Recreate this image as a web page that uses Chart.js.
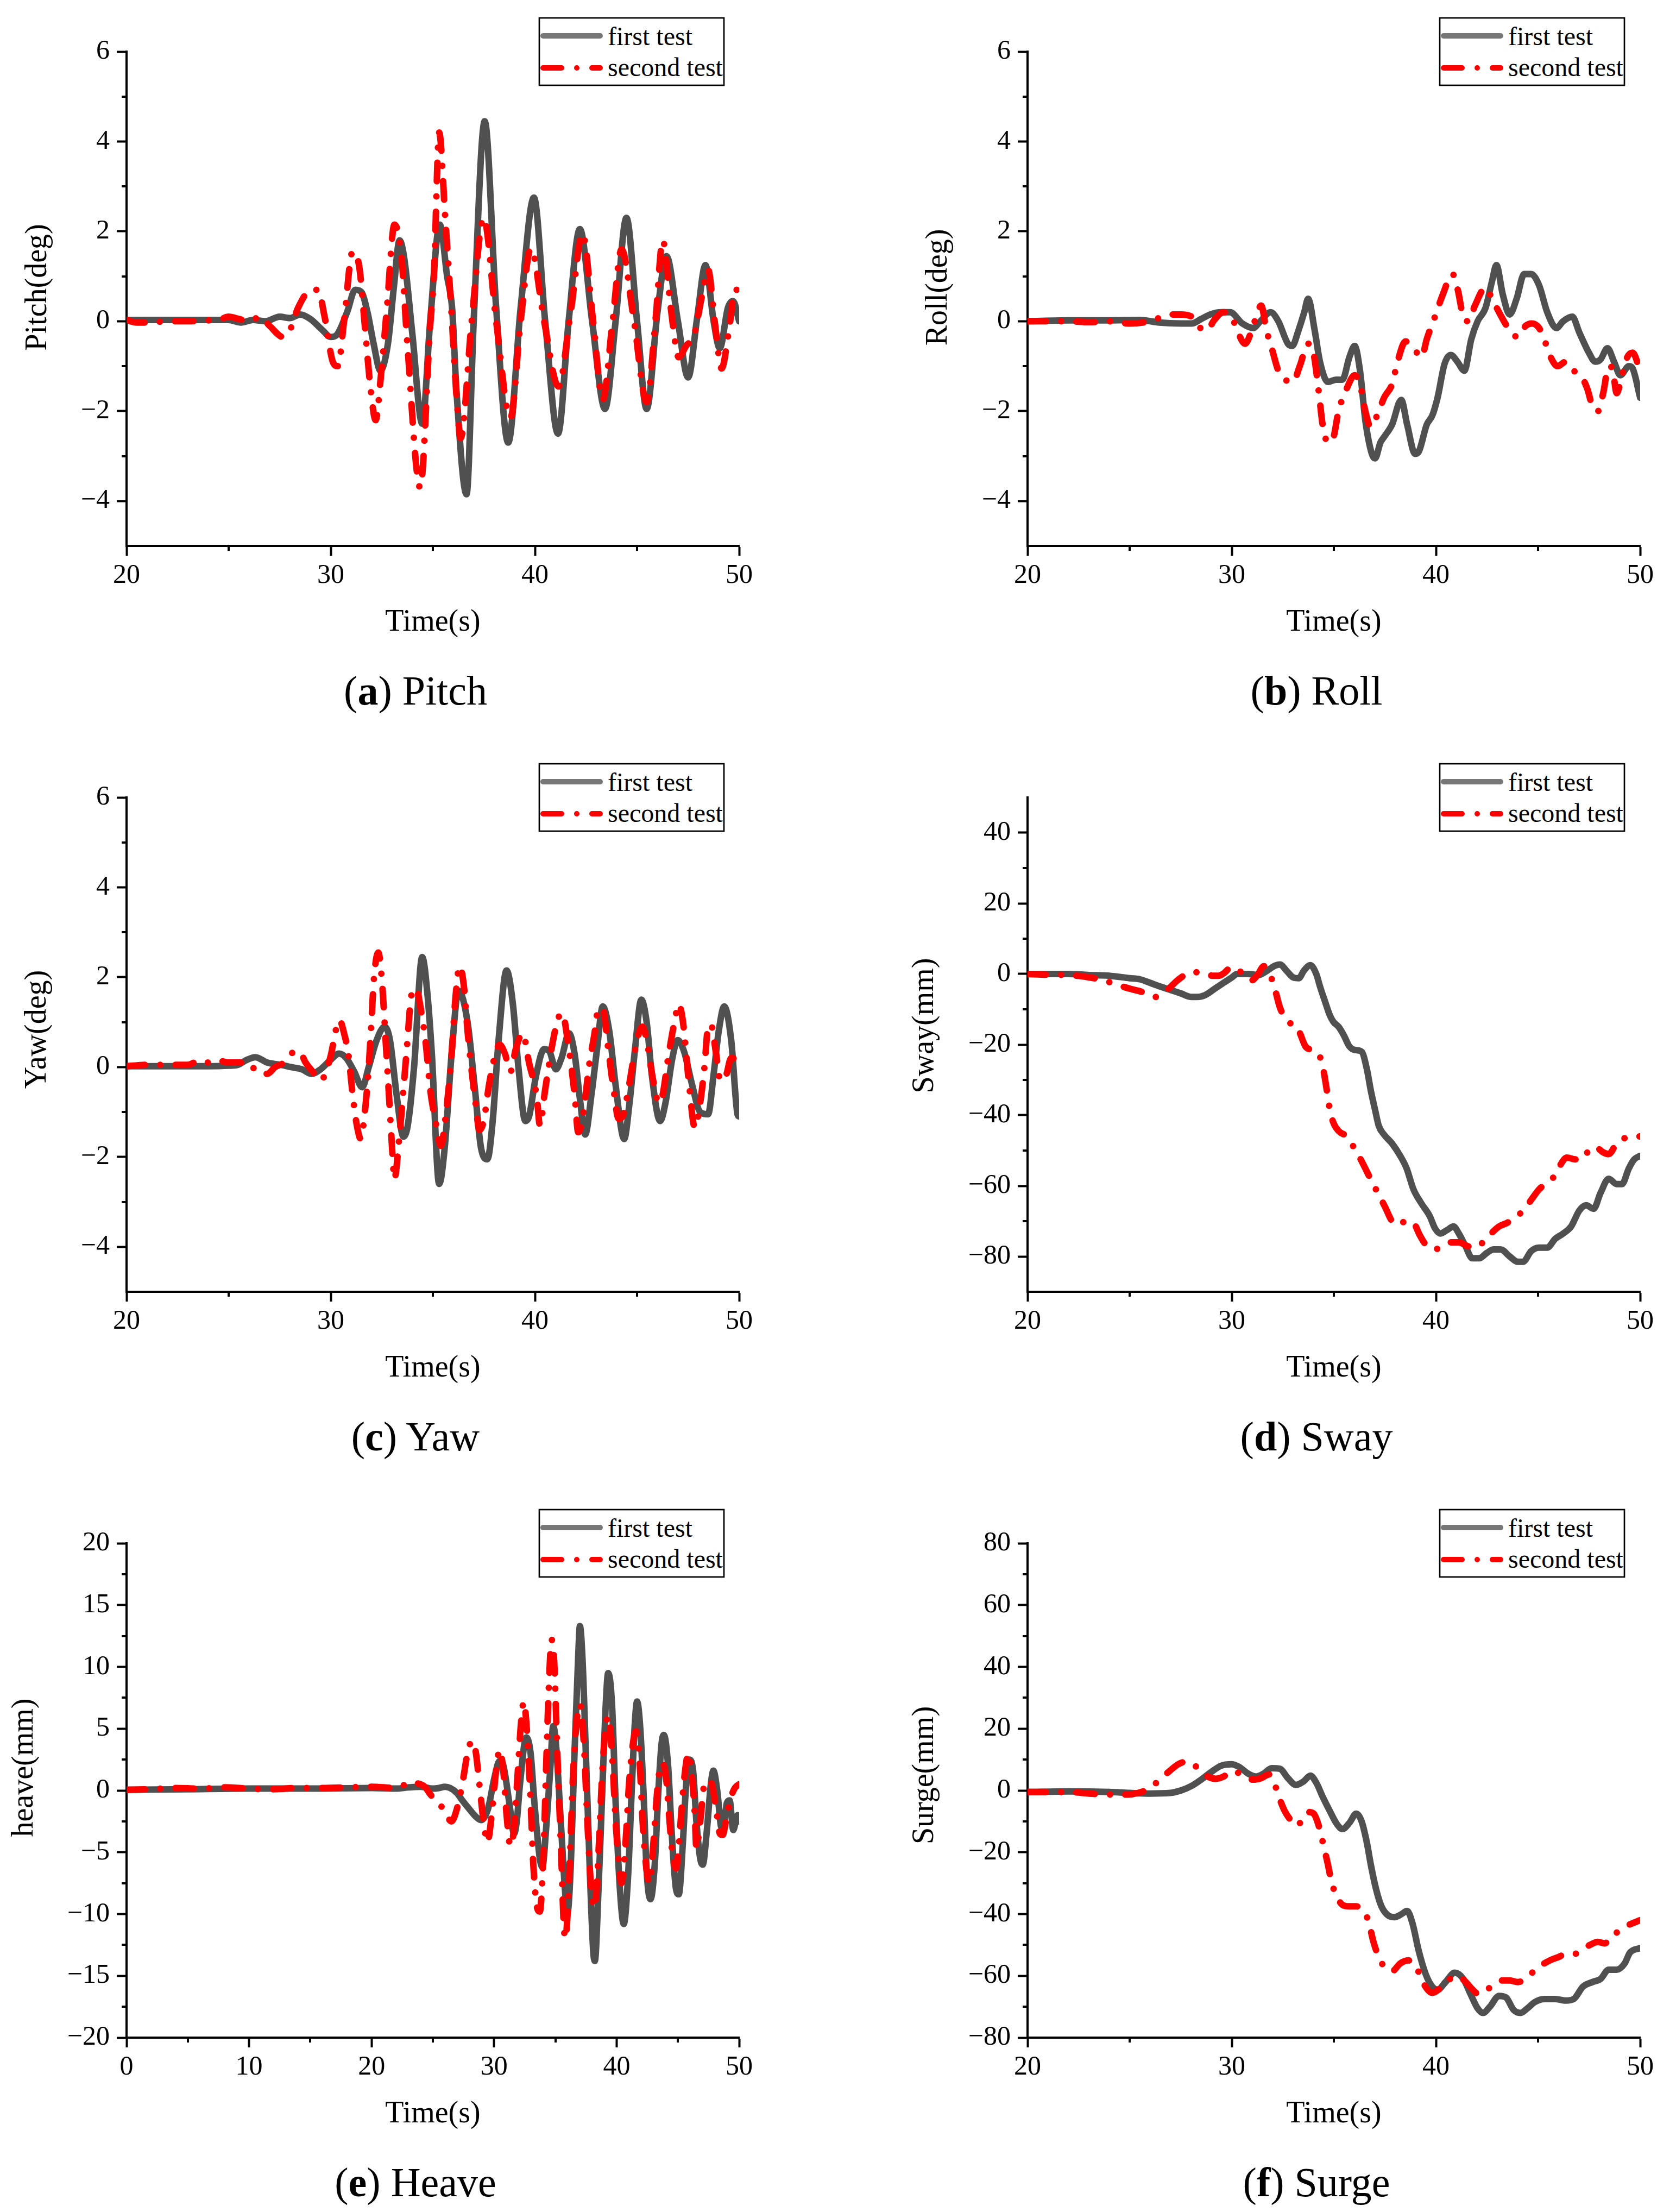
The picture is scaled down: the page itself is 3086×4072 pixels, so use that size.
<!DOCTYPE html>
<html><head><meta charset="utf-8">
<script src="https://cdn.jsdelivr.net/npm/chart.js@4.4.1/dist/chart.umd.min.js"></script>
<style>
html,body{margin:0;padding:0;background:#fff;}
#page{position:relative;width:3086px;height:4072px;overflow:hidden;background:#fff;font-family:"Liberation Serif","Times New Roman",serif;}
.panel{position:absolute;width:1543px;height:1373px;}
.panel canvas{position:absolute;left:0;top:0;}
.cap{position:absolute;font-size:76px;line-height:1;white-space:nowrap;transform:translate(-50%,-50%);color:#000;}
.leg{position:absolute;top:30px;}
</style></head><body><div id="page"></div>
<script>
// ---------------- DATA ----------------
const pitchFirstT = [20,22,24,25,25.6,26.2,26.8,27.5,28,28.5,29,29.6,30,30.3,30.8,31.2,31.5,31.8,32.1,32.43,32.8,33.1,33.37,33.6,34,34.48,34.87,35.34,35.7,35.95,36.15,36.65,37,37.54,38.1,38.69,39.3,39.95,40.5,41.13,41.65,42.2,42.8,43.43,43.95,44.48,45,45.47,46,46.44,47,47.5,47.95,48.35,48.75,49.05,49.45,49.7,50];
const pitchFirstV = [0.03,0.03,0.03,0.03,-0.03,0.03,0,0.1,0.07,0.15,0.05,-0.2,-0.35,-0.3,0.2,0.7,0.65,0.2,-0.5,-1.1,-0.5,0.8,1.8,1.4,-0.3,-2.28,0,2.15,1.0,0.25,-1.5,-3.85,0,4.45,0.3,-2.7,0.3,2.75,0,-2.5,0,2.05,0,-1.95,0,2.3,0,-1.95,0.2,1.45,0,-1.25,0.1,1.25,0,-0.6,0.3,0.45,0];
const pitchSecondT = [20,20.5,21,22,23,24,24.5,25,25.5,26,26.55,27,27.67,28,28.4,29.06,29.37,29.7,30.1,30.35,30.65,31.07,31.4,31.65,31.95,32.2,32.46,32.75,33.12,33.45,33.75,34.38,34.87,35.05,35.31,35.6,35.9,36.18,36.36,36.9,37.49,38.1,38.8,39.3,39.8,40.45,41.15,41.75,42.33,42.85,43.32,43.8,44.24,44.85,45.47,45.9,46.26,46.65,47.04,47.4,47.8,48.15,48.48,48.8,49.14,49.5,49.8,50];
const pitchSecondV = [0.03,-0.03,-0.03,0,0,0.02,0.03,0.1,0.05,0,0.1,-0.1,-0.35,-0.2,0.3,0.7,0.7,0.1,-0.9,-1.0,0,1.55,1.2,0,-1.5,-2.2,-1.2,0.3,2.15,1.5,-0.5,-3.7,-0.1,1.0,4.2,2.35,0.27,-1.8,-2.6,0,2.3,0,-2.15,0,1.62,0,-1.45,0.2,1.95,0,-1.75,0,1.6,0,-1.8,0,1.8,0.3,-0.8,-0.55,-0.3,0.5,1.15,0,-1.05,-0.2,0.7,0.7];

const rollFirstT = [20,22,24,25.5,26.46,27.5,28.04,28.5,28.95,29.48,29.92,30.52,31.05,31.4,31.9,32.28,32.75,32.96,33.27,33.55,33.74,34.06,34.32,34.71,35.1,35.42,35.76,36.02,36.28,36.54,36.86,37.02,37.28,37.5,37.85,38.3,38.59,38.98,39.16,39.55,39.82,40.08,40.42,40.73,41.05,41.39,41.73,42.04,42.43,42.75,42.96,43.27,43.61,43.95,44.32,44.66,45.05,45.45,45.9,46.23,46.68,47.02,47.49,47.8,48.06,48.4,48.72,49.03,49.45,49.63,50];
const rollFirstV = [0,0.02,0.02,0.03,-0.03,-0.05,-0.05,0.05,0.15,0.2,0.2,-0.05,-0.15,0,0.2,0,-0.5,-0.55,-0.2,0.2,0.5,-0.2,-0.9,-1.35,-1.3,-1.3,-0.8,-0.55,-1.1,-2.2,-2.95,-3.05,-2.7,-2.55,-2.3,-1.75,-2.3,-2.95,-2.9,-2.3,-2.1,-1.7,-0.95,-0.75,-0.9,-1.1,-0.4,0,0.3,0.9,1.25,0.6,0.15,0.5,1.05,1.05,0.8,0.2,-0.15,0,0.1,-0.25,-0.7,-0.9,-0.85,-0.6,-0.9,-1.2,-1.0,-1.05,-1.7];
const rollSecondT = [20,21,22,23,24,25,26,27,27.5,28.04,28.46,28.82,29.1,29.6,30,30.26,30.65,31.05,31.3,31.44,31.7,31.96,32.28,32.62,33,33.33,33.74,34,34.27,34.45,34.71,34.97,35.23,35.63,36.02,36.28,36.54,36.8,37.2,37.46,37.85,38.12,38.51,38.9,39.3,39.55,39.95,40.34,40.81,41.07,41.34,41.6,41.91,42.43,42.75,43.09,43.61,44,44.4,44.7,45.05,45.3,45.62,45.96,46.36,46.75,47.15,47.41,47.67,47.93,48.19,48.46,48.64,48.85,49.11,49.37,49.63,50];
const rollSecondV = [0,0,0,-0.02,0,-0.05,0,0.15,0.15,0.1,-0.15,-0.2,0,0.2,0.1,-0.2,-0.5,-0.1,0.25,0.35,-0.2,-0.6,-1.1,-1.3,-1.35,-1.0,-0.5,-0.7,-1.6,-2.3,-2.7,-2.6,-2.0,-1.5,-1.2,-1.4,-2.0,-2.35,-2.0,-1.7,-1.4,-0.9,-0.45,-0.6,-0.8,-0.4,0.1,0.6,1.05,0.7,0.1,0,0.35,0.75,0.5,0.2,-0.2,-0.35,-0.1,-0.05,-0.15,-0.4,-0.8,-1.0,-0.9,-1.1,-1.25,-1.5,-1.9,-2.0,-1.6,-1.0,-1.05,-1.6,-1.2,-0.8,-0.7,-1.1];

const yawFirstT = [20,22,24,25,25.45,25.84,26.31,26.89,27.54,28.06,28.59,29.06,29.5,29.97,30.41,30.76,31.15,31.54,31.86,32.25,32.64,32.9,33.22,33.56,33.77,34.08,34.48,34.74,34.95,35.31,35.58,35.92,36.26,36.7,37.04,37.36,37.67,37.93,38.22,38.61,38.92,39.19,39.53,39.71,40.05,40.45,40.71,41.02,41.3,41.67,41.94,42.2,42.46,42.77,43.04,43.32,43.64,43.95,44.37,44.63,44.9,45.21,45.47,45.73,46.13,46.39,46.73,46.99,47.3,47.7,48.09,48.48,48.74,49,49.27,49.61,49.92,50];
const yawFirstV = [0.02,0.02,0.02,0.03,0.05,0.15,0.22,0.1,0.05,0,-0.05,-0.15,-0.05,0.15,0.3,0.2,-0.1,-0.45,0,0.6,0.9,0.6,-0.6,-1.55,-1.3,0,2.45,1.6,0.3,-2.6,-1.8,0.3,1.7,1.0,-0.4,-1.8,-2.05,-1.2,0.6,2.15,1.4,0,-1.2,-1.1,-0.2,0.4,0.35,-0.05,0.2,0.75,0.3,-0.7,-1.5,-0.6,0.4,1.35,0.8,-0.4,-1.6,-0.8,0.4,1.5,1.0,-0.2,-1.2,-0.8,0.2,0.6,0.35,-0.4,-1.0,-1.05,-0.2,0.8,1.35,0.6,-1.05,-1.1];
const yawSecondT = [20,21,22,23,23.6,24,24.4,25.05,25.57,25.97,26.36,26.88,27.28,27.7,28.06,28.46,28.77,29.11,29.5,29.97,30.29,30.42,30.68,30.86,31.07,31.28,31.47,31.67,31.86,31.99,32.12,32.33,32.51,32.7,32.9,33.03,33.11,33.37,33.56,33.74,33.95,34.16,34.48,34.66,34.87,35.13,35.39,35.65,35.92,36.1,36.31,36.52,36.7,36.88,37.09,37.28,37.49,37.75,38.01,38.27,38.53,38.8,39.06,39.4,39.71,40.1,40.24,40.5,40.89,41.15,41.34,41.6,41.94,42.12,42.38,42.64,42.9,43.11,43.32,43.59,43.85,44.1,44.29,44.61,44.95,45.26,45.47,45.79,46.07,46.26,46.52,46.83,47.04,47.25,47.55,47.83,48.09,48.3,48.48,48.61,48.87,49.08,49.35,49.61,50];
const yawSecondV = [0.02,0.05,0.05,0.05,0.15,0.1,0.15,0.1,0.1,0.1,-0.1,-0.15,0,0.1,0.3,0.35,0.1,-0.1,-0.3,0.2,0.9,1.05,0.7,0.3,-0.6,-1.3,-1.6,-1.0,0,1.0,2.0,2.55,1.9,0.5,-1.0,-2.0,-2.5,-1.5,-0.5,0.5,1.6,1.75,1.1,0.5,-0.5,-1.2,-1.75,-1.0,0.3,1.5,2.25,1.8,0.8,0,-0.8,-1.4,-1.2,-0.4,0.2,0.5,0.3,-0.1,0.4,0.75,0.1,-0.7,-1.3,-0.5,0.6,1.1,1.2,0.6,-0.6,-1.45,-1.0,0,0.7,1.3,1.3,0.4,-0.5,-1.15,-1.1,-0.4,0.5,0.9,0.6,-0.3,-0.8,-0.6,0.2,1.0,1.4,1.0,-0.4,-1.35,-0.8,0,0.9,0.95,0.3,-0.3,-0.2,0.2,0.15];

const swayFirstT = [20,22,23,24,25,25.5,26,26.47,26.99,27.51,28.04,28.3,28.69,29.21,29.6,30,30.26,30.79,31.31,31.7,32.1,32.36,32.7,33.02,33.28,33.54,33.85,34.14,34.32,34.58,34.79,34.97,35.24,35.5,35.76,36.02,36.36,36.62,36.81,37.02,37.2,37.46,37.85,38.25,38.56,38.9,39.29,39.69,39.95,40.21,40.55,40.86,41.12,41.44,41.78,42.12,42.49,42.83,43.17,43.61,44.01,44.27,44.66,45.05,45.45,45.84,46.23,46.62,47.02,47.36,47.72,48.06,48.46,48.85,49.11,49.45,49.71,50];
const swayFirstV = [0,0,-0.3,-0.5,-1.2,-1.5,-2.5,-3.5,-4.5,-5.5,-6.5,-6.5,-6.0,-4.0,-2.5,-1.0,0,0,-0.3,0.8,2.3,2.7,0.8,-1.0,-1.2,1.0,2.5,0,-3.5,-8,-11.5,-13.5,-15,-17.5,-20.5,-21.5,-22,-27,-33,-38.5,-43,-45.5,-48,-51.5,-55,-61,-65,-68.5,-72,-73.5,-72.5,-71.5,-73.5,-77,-80.5,-80.5,-79,-78,-78,-80,-81.5,-81.5,-78.5,-77.5,-77.5,-75,-73.5,-71.5,-67,-65.5,-66.5,-62,-58,-59.5,-59.5,-55,-52.5,-51.5];
const swaySecondT = [20,21,22,23.06,23.59,24.11,24.63,25.03,25.68,26.28,26.6,26.94,27.3,27.64,28.04,28.43,28.77,29.08,29.35,29.61,30,30.39,30.65,30.97,31.26,31.57,31.83,32.1,32.36,32.62,32.88,33.14,33.32,33.61,33.93,34.24,34.45,34.63,34.79,34.97,35.24,35.63,36.02,36.36,36.75,37.15,37.51,37.85,38.19,38.51,38.9,39.21,39.55,39.95,40.34,40.73,41.12,41.52,41.91,42.3,42.7,43.09,43.48,43.87,44.27,44.66,45.05,45.45,45.84,46.1,46.41,46.83,47.15,47.54,47.8,48.19,48.46,48.85,49.24,49.63,50];
const swaySecondV = [0,-0.2,-0.3,-1.0,-1.6,-2.5,-3.5,-4.2,-5.2,-6.5,-5.5,-4.0,-2.0,-0.5,0.5,0.5,0,-0.5,-0.5,0.2,2.0,0.8,-0.5,-1.8,-0.3,2.2,0.5,-4.0,-9.5,-12.5,-14,-14.5,-16.5,-20.5,-21.5,-22.5,-26,-32,-38,-42,-44.5,-46,-49.5,-53,-57.5,-62,-66,-70,-71,-70,-70.5,-74,-77,-78,-77,-76,-76,-77,-77.5,-76,-73.5,-71.5,-70.5,-69,-67,-64,-61,-59,-57,-54,-52,-52.5,-52.5,-49.5,-49,-50.5,-51,-48,-46.5,-46,-46];

const heaveFirstT = [0,5,10,15,20,21.99,23.04,24,25,25.5,26,26.4,26.96,27.4,27.97,28.49,28.93,29.5,30.02,30.45,30.76,31.24,31.63,31.85,32.11,32.63,32.98,33.29,33.73,33.94,34.25,34.6,34.82,35.03,35.47,35.82,36,36.26,36.56,36.87,37,37.22,37.52,37.83,38.09,38.22,38.52,38.83,39.09,39.31,39.62,39.92,40.27,40.58,40.93,41.23,41.49,41.67,41.93,42.23,42.45,42.76,43.11,43.41,43.67,43.85,44.2,44.5,44.85,45.07,45.42,45.64,45.94,46.25,46.51,46.82,47.03,47.34,47.69,47.9,48.21,48.56,48.78,49,49.22,49.52,49.87,50];
const heaveFirstV = [0.05,0.1,0.15,0.15,0.2,0.15,0.25,0.3,0.15,0.2,0.3,0.2,-0.2,-0.8,-1.5,-2.1,-2.4,-1.5,1.0,2.4,2.0,-1.0,-3.5,-2.5,0.5,4.3,3.0,-1.0,-5.5,-6.2,-3.0,2.0,5.2,4.0,-3.0,-8.5,-9.8,-6.0,3.0,11.0,13.3,10.5,2.0,-7.0,-13.0,-13.8,-8.0,0,6.5,9.5,7.0,-1.0,-8.0,-10.8,-7.0,0,5.5,7.2,5.0,-1.0,-6.5,-8.8,-6.0,0,3.8,4.5,2.0,-3.5,-8.0,-8.4,-4.0,0,2.5,1.5,-2.5,-5.5,-6.0,-3.5,0.5,1.6,0,-3.0,-2.5,-1.0,-0.8,-3.2,-2.0,-2.5];
const heaveSecondT = [0,2,4,6,8,10,12,14,16,18,20,22,23.34,23.69,24.34,24.78,25.22,25.87,26.52,26.96,27.4,27.83,28.18,28.49,28.8,29.14,29.45,29.8,30.15,30.45,30.76,31.02,31.33,31.63,31.9,32.2,32.42,32.63,32.94,33.2,33.51,33.73,34.03,34.25,34.47,34.69,34.9,35.16,35.47,35.69,35.82,36.13,36.43,36.78,37,37.31,37.66,37.96,38.22,38.52,38.83,39.09,39.31,39.62,39.92,40.18,40.4,40.71,41.01,41.36,41.58,41.89,42.15,42.45,42.67,42.98,43.32,43.63,43.98,44.28,44.54,44.85,45.07,45.38,45.64,45.86,46.16,46.38,46.51,46.82,47.16,47.47,47.77,48.12,48.43,48.65,49,49.35,49.65,50];
const heaveSecondV = [0.05,0.1,0.2,0.15,0.25,0.15,0.1,0.2,0.2,0.25,0.3,0.2,0.7,0.6,0.3,-0.3,-0.8,-1.5,-2.5,-1.5,0.5,3.0,4.0,3.2,0.5,-2.5,-4.2,-2.0,1.5,3.3,1.5,-2.0,-4.5,-3.0,1.0,5.5,7.2,5.5,0,-6.0,-9.5,-9.8,-5.0,2.0,8.5,12.2,10.5,3.0,-5.0,-11.0,-12.0,-7.0,1.0,6.0,7.0,4.0,-3.5,-8.5,-9.5,-5.0,1.5,5.0,6.0,3.0,-2.5,-6.0,-7.5,-4.5,0.5,4.0,4.8,2.0,-3.0,-6.5,-7.5,-4.5,0,2.2,1.5,-2.0,-5.0,-6.3,-4.5,-0.5,2.0,3.0,1.0,-2.0,-4.7,-2.5,0.5,0.8,0.5,-1.5,-3.5,-3.6,-2.0,-0.5,0.2,0.5];

const surgeFirstT = [20,22,24,25,26,26.99,27.51,28.04,28.5,29,29.48,30,30.39,30.79,31.18,31.57,31.96,32.36,32.75,33.14,33.53,33.85,34.14,34.45,34.79,35.16,35.42,35.76,36.1,36.36,36.62,36.81,37.07,37.33,37.67,37.98,38.32,38.59,38.85,39.16,39.5,39.82,40.08,40.47,40.92,41.34,41.7,42.04,42.3,42.64,43.09,43.43,43.8,44.14,44.48,44.84,45.31,45.84,46.36,46.75,47.2,47.67,48.06,48.46,48.85,49.24,49.5,50];
const surgeFirstV = [-0.5,-0.3,-0.5,-0.8,-1.0,-0.8,0,1.5,3.5,6.0,8.0,8.5,7.5,5.5,4.5,5.5,7.2,7.0,4.0,1.8,3.0,4.8,2.5,-2.0,-6.5,-11.0,-12.5,-10.5,-7.5,-10.0,-17.0,-24.0,-32,-37.5,-40.5,-41,-40,-39,-43,-52,-59.5,-63.5,-64.5,-62,-59,-61,-66,-70.5,-72,-70,-66.5,-67,-71,-72,-70.5,-68.5,-67.5,-67.5,-68,-67.5,-63.5,-62,-61,-58,-58,-56,-52.5,-51];
const surgeSecondT = [20,22,23,23.98,24.9,25.42,26,26.47,26.99,27.38,27.77,28.04,28.43,28.82,29.21,29.6,30,30.39,30.79,31.05,31.44,31.83,32.1,32.36,32.62,32.88,33.19,33.4,33.74,34.01,34.24,34.45,34.71,34.9,35.16,35.42,35.76,36.1,36.36,36.68,36.94,37.2,37.46,37.85,38.25,38.64,39.03,39.35,39.82,40.21,40.6,40.99,41.39,41.73,42.12,42.49,42.83,43.22,43.61,44.01,44.4,44.79,45.18,45.58,45.97,46.36,46.75,47.15,47.54,47.93,48.27,48.59,49,49.45,50];
const surgeSecondV = [-0.5,-0.5,-1.0,-1.3,-1.3,-0.8,0.8,3.5,6.5,8.5,9.3,9.0,6.5,4.5,3.8,4.5,6.3,5.5,4.0,3.5,4.0,5.2,2.0,-3.0,-7.0,-9.5,-11.5,-10.0,-7.0,-7.5,-11.0,-16.5,-24.0,-30.0,-34.5,-37.0,-37.5,-37.5,-38.5,-42.0,-49.0,-54.0,-57.0,-58.5,-56.0,-55.0,-57.0,-62.0,-65.5,-64.0,-61.5,-60.0,-61.5,-64.0,-66.0,-64.5,-63.0,-61.5,-61.5,-62.0,-61.0,-58.5,-56.5,-55.0,-54.0,-53.0,-53.0,-51.5,-50.0,-49.0,-49.5,-47.0,-45.5,-43.5,-42.0];

// text, axis ranges and tick labels
const seriesLabels = ['first test', 'second test'];
const xTitle = 'Time(s)';
const yTitles = ['Pitch(deg)', 'Roll(deg)', 'Yaw(deg)', 'Sway(mm)', 'heave(mm)', 'Surge(mm)'];
const captionLetters = ['a', 'b', 'c', 'd', 'e', 'f'];
const captionNames = ['Pitch', 'Roll', 'Yaw', 'Sway', 'Heave', 'Surge'];
const xRanges = [[20,50],[20,50],[20,50],[20,50],[0,50],[20,50]];
const yRanges = [[-5,6],[-5,6],[-5,6],[-90,50],[-20,20],[-80,80]];
const xTickValues = [[20,30,40,50],[20,30,40,50],[20,30,40,50],[20,30,40,50],[0,10,20,30,40,50],[20,30,40,50]];
const yTickValues = [
  [-4,-2,0,2,4,6], [-4,-2,0,2,4,6], [-4,-2,0,2,4,6],
  [-80,-60,-40,-20,0,20,40],
  [-20,-15,-10,-5,0,5,10,15,20],
  [-80,-60,-40,-20,0,20,40,60,80]
];
const xMajorSteps = [10,10,10,10,10,10];
const yMajorSteps = [2,2,2,20,5,20];

// ---------------- layout / style ----------------
const FONT = 'Liberation Serif';
const GRAY = '#505050';
const RED = '#ff0000';
const LINE_W = 12;
const DASH = [34, 28, 0, 28];
const CW = 1543, CH = 1240;
const PLOT_TOP = 95, PLOT_H = 910, XAXIS_H = 175;
const TITLE_SIZE = 56;
const colLeft = [0, 1543];
const rowTop = [0, 1373, 2746];
const yAxisW = [233, 349];       // per column
const padRight = [182, 66];      // per column
const yTitlePad = [37, 152, 36, 127, 12, 127];
const yTitleLift = [3, 3, 4, 5, 6, 4];   // leading spaces -> title sits a little above centre, as in the reference
const capCenterX = [765, 881];   // relative to panel
const legendLeft = [990, 1105];  // relative to panel

const pts = (t, v) => t.map((x, i) => ({ x: x, y: v[i] }));
const fmt = v => (v < 0 ? '\u2212' + Math.abs(v) : String(v));

const minorTicks = {
  id: 'minorTicks',
  afterDraw(chart, args, opts) {
    const { ctx, chartArea: a, scales: { x, y } } = chart;
    ctx.save();
    ctx.strokeStyle = '#000';
    ctx.lineWidth = 4;
    ctx.beginPath();
    (opts.xMinor || []).forEach(v => {
      const px = Math.round(x.getPixelForValue(v));
      ctx.moveTo(px, a.bottom + 2); ctx.lineTo(px, a.bottom + 9);
    });
    (opts.yMinor || []).forEach(v => {
      const py = Math.round(y.getPixelForValue(v));
      ctx.moveTo(a.left - 2, py); ctx.lineTo(a.left - 9, py);
    });
    ctx.stroke();
    ctx.restore();
  }
};

function minorList(min, max, major) {
  const out = [];
  const half = major / 2;
  for (let v = Math.ceil(min / half) * half; v <= max + 1e-9; v += half) {
    const r = Math.round(v * 1000) / 1000;
    if (r <= min || r >= max) continue;
    if (Math.abs(r / major - Math.round(r / major)) > 1e-6) out.push(r);
  }
  return out;
}

const seriesT1 = [pitchFirstT, rollFirstT, yawFirstT, swayFirstT, heaveFirstT, surgeFirstT];
const seriesV1 = [pitchFirstV, rollFirstV, yawFirstV, swayFirstV, heaveFirstV, surgeFirstV];
const seriesT2 = [pitchSecondT, rollSecondT, yawSecondT, swaySecondT, heaveSecondT, surgeSecondT];
const seriesV2 = [pitchSecondV, rollSecondV, yawSecondV, swaySecondV, heaveSecondV, surgeSecondV];

const page = document.getElementById('page');

for (let i = 0; i < 6; i++) {
  const col = i % 2, row = Math.floor(i / 2);
  const panel = document.createElement('div');
  panel.className = 'panel';
  panel.style.left = colLeft[col] + 'px';
  panel.style.top = rowTop[row] + 'px';
  page.appendChild(panel);

  const cv = document.createElement('canvas');
  cv.width = CW; cv.height = CH;
  cv.style.width = CW + 'px'; cv.style.height = CH + 'px';
  panel.appendChild(cv);

  const [xMin, xMax] = xRanges[i];
  const [yMin, yMax] = yRanges[i];
  const xTicks = xTickValues[i], yTicks = yTickValues[i];

  new Chart(cv, {
    type: 'line',
    data: {
      datasets: [
        { label: seriesLabels[0], data: pts(seriesT1[i], seriesV1[i]), borderColor: GRAY, backgroundColor: GRAY,
          borderWidth: LINE_W, pointRadius: 0, cubicInterpolationMode: 'monotone', borderJoinStyle: 'round',
          borderCapStyle: 'round', fill: false, order: 2 },
        { label: seriesLabels[1], data: pts(seriesT2[i], seriesV2[i]), borderColor: RED, backgroundColor: RED,
          borderWidth: LINE_W, borderDash: DASH, pointRadius: 0, cubicInterpolationMode: 'monotone',
          borderJoinStyle: 'round', borderCapStyle: 'round', fill: false, order: 1 }
      ]
    },
    options: {
      responsive: false, animation: false, devicePixelRatio: 1,
      layout: { padding: { left: 0, right: padRight[col], top: PLOT_TOP, bottom: CH - PLOT_TOP - PLOT_H - XAXIS_H } },
      plugins: {
        legend: { display: false }, tooltip: { enabled: false },
        minorTicks: { xMinor: minorList(xMin, xMax, xMajorSteps[i]), yMinor: minorList(yMin, yMax, yMajorSteps[i]) }
      },
      scales: {
        x: {
          type: 'linear', position: 'bottom', min: xMin, max: xMax,
          afterBuildTicks(s) { s.ticks = xTicks.map(v => ({ value: v })); },
          ticks: { padding: 7, color: '#000', maxRotation: 0, autoSkip: false,
                   font: { family: FONT, size: 50 }, callback: v => fmt(v) },
          grid: { drawOnChartArea: false, drawTicks: true, tickLength: 18, tickWidth: 4, tickColor: '#000' },
          border: { display: true, color: '#000', width: 4 },
          title: { display: true, text: xTitle, color: '#000', font: { family: FONT, size: TITLE_SIZE }, padding: { top: 0, bottom: 0 } },
          afterFit(s) { s.height = XAXIS_H; }
        },
        y: {
          type: 'linear', position: 'left', min: yMin, max: yMax,
          afterBuildTicks(s) { s.ticks = yTicks.map(v => ({ value: v })); },
          ticks: { padding: 13, color: '#000', autoSkip: false,
                   font: { family: FONT, size: 50 }, callback: v => fmt(v) },
          grid: { drawOnChartArea: false, drawTicks: true, tickLength: 18, tickWidth: 4, tickColor: '#000' },
          border: { display: true, color: '#000', width: 4 },
          title: { display: true, text: ' '.repeat(yTitleLift[i]) + yTitles[i], color: '#000',
                   font: { family: FONT, size: TITLE_SIZE }, padding: { top: yTitlePad[i], bottom: 0 } },
          afterFit(s) { s.width = yAxisW[col]; }
        }
      }
    },
    plugins: [minorTicks]
  });

  // legend (box drawn as SVG, text is real text)
  const svgNS = 'http://www.w3.org/2000/svg';
  const svg = document.createElementNS(svgNS, 'svg');
  svg.setAttribute('class', 'leg');
  svg.setAttribute('width', '350'); svg.setAttribute('height', '132');
  svg.style.left = legendLeft[col] + 'px';
  svg.innerHTML =
    '<rect x="3" y="3" width="340" height="124" fill="#fff" stroke="#000" stroke-width="2.7"/>' +
    '<line x1="10" y1="36" x2="115" y2="36" stroke="#777777" stroke-width="10" stroke-linecap="round"/>' +
    '<line x1="10" y1="95" x2="115" y2="95" stroke="' + RED + '" stroke-width="10" stroke-linecap="round" stroke-dasharray="34 28 0 28"/>' +
    '<text x="129" y="53" font-family="' + FONT + '" font-size="48" fill="#000">' + seriesLabels[0] + '</text>' +
    '<text x="129" y="110" font-family="' + FONT + '" font-size="48" fill="#000">' + seriesLabels[1] + '</text>';
  panel.appendChild(svg);

  // caption
  const cap = document.createElement('div');
  cap.className = 'cap';
  cap.style.left = capCenterX[col] + 'px';
  cap.style.top = '1271px';
  cap.innerHTML = '(<b>' + captionLetters[i] + '</b>) ' + captionNames[i];
  panel.appendChild(cap);
}
</script>
</body></html>
